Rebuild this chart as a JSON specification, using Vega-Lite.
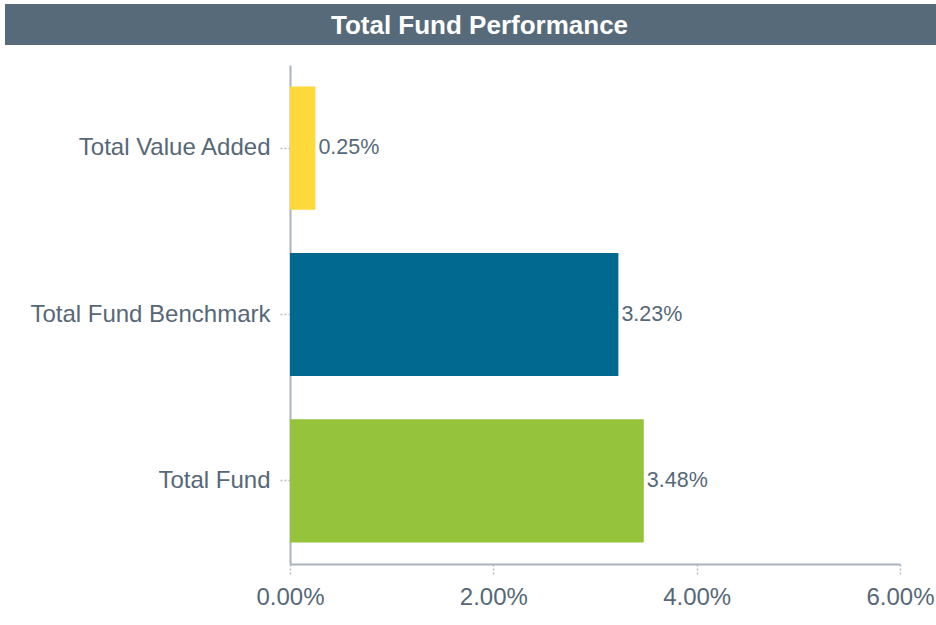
{
  "$schema": "https://vega.github.io/schema/vega-lite/v6.json",
  "background": "white",
  "padding": {"left": 5, "top": 4, "right": 0, "bottom": 0},
  "columns": 1,
  "spacing": 20,
  "config": {
    "font": "Liberation Sans",
    "view": {"stroke": null}
  },
  "concat": [
    {
      "width": 931,
      "height": 41,
      "view": {"fill": "#576a7a", "stroke": null},
      "data": {"values": [{"title": "Total Fund Performance"}]},
      "mark": {"type": "text", "fontSize": 26, "fontWeight": "bold", "color": "white", "baseline": "middle", "dx": 9, "dy": 1, "font": "Liberation Sans"},
      "encoding": {"text": {"field": "title", "type": "nominal"}}
    },
    {
      "width": 895,
      "height": 499,
      "data": {"values": [
        {"category": "Total Value Added", "value": 0.0025},
        {"category": "Total Fund Benchmark", "value": 0.0323},
        {"category": "Total Fund", "value": 0.0348}
      ]},
      "encoding": {
        "y": {
          "field": "category", "type": "nominal", "sort": null, "title": null,
          "scale": {"paddingInner": 0.26, "paddingOuter": 0.13},
          "axis": {
            "offset": -285,
            "domainColor": "#a9b4bf", "domainWidth": 2,
            "tickColor": "#b5bdc6", "tickDash": [2, 2], "tickSize": 10, "tickWidth": 1.5,
            "labelFontSize": 24, "labelColor": "#566878", "labelPadding": 10,
            "labelLimit": 400
          }
        },
        "x": {
          "field": "value", "type": "quantitative", "title": null,
          "scale": {"domain": [0, 0.06], "nice": false, "range": [285, 895]},
          "axis": {
            "values": [0, 0.02, 0.04, 0.06], "format": ".2%", "grid": false,
            "labelFlush": false,
            "domainColor": "#a9b4bf", "domainWidth": 2,
            "tickColor": "#b5bdc6", "tickDash": [2, 2], "tickSize": 12, "tickWidth": 1.5,
            "labelFontSize": 24, "labelColor": "#566878", "labelPadding": 9
          }
        }
      },
      "layer": [
        {
          "mark": {"type": "bar"},
          "encoding": {
            "color": {
              "field": "category", "type": "nominal", "legend": null,
              "scale": {"domain": ["Total Value Added", "Total Fund Benchmark", "Total Fund"], "range": ["#fdd93b", "#01688f", "#95c33c"]}
            }
          }
        },
        {
          "mark": {"type": "text", "align": "left", "baseline": "middle", "dx": 3, "fontSize": 21.5, "color": "#566878"},
          "encoding": {"text": {"field": "value", "type": "quantitative", "format": ".2%"}}
        }
      ]
    }
  ]
}
